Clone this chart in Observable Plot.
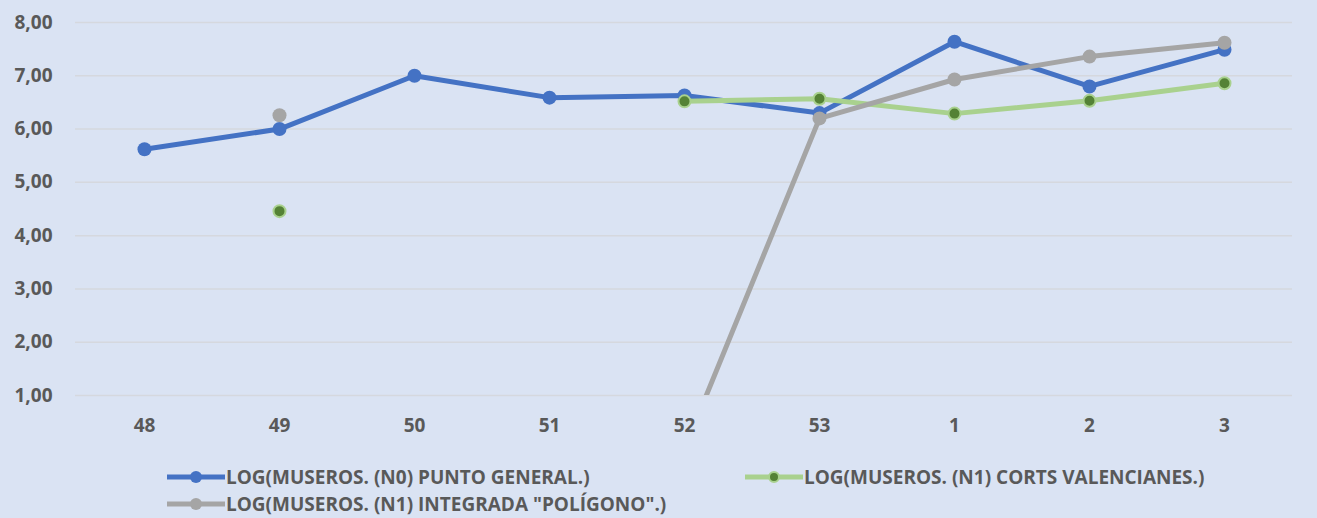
<!DOCTYPE html>
<html>
<head>
<meta charset="utf-8">
<script src="https://cdn.jsdelivr.net/npm/d3@7"></script>
<script src="https://cdn.jsdelivr.net/npm/@observablehq/plot@0.6"></script>
<style>
  html, body { margin: 0; padding: 0; background: #dae3f3; }
  body { width: 1317px; height: 518px; overflow: hidden; position: relative; font-family: "Open Sans", sans-serif; }
  #chart svg { display: block; background: #dae3f3; }
  .legend { position: absolute; left: 0; top: 0; width: 1317px; }
  .item { position: absolute; display: flex; align-items: center; font-weight: bold; font-size: 19px; color: #595959; white-space: nowrap; }
  .item svg { display: block; margin-right: 1px; }
</style>
</head>
<body>
<div id="chart"></div>
<div class="legend" id="legend"></div>
<script>
const categories = ["48", "49", "50", "51", "52", "53", "1", "2", "3"];
const seriesNames = [
  "LOG(MUSEROS. (N0) PUNTO GENERAL.)",
  "LOG(MUSEROS. (N1) CORTS VALENCIANES.)",
  "LOG(MUSEROS. (N1) INTEGRADA \"POLÍGONO\".)"
];
const puntoGeneral = [5.62, 6.00, 7.00, 6.59, 6.63, 6.30, 7.64, 6.80, 7.49];
const cortsValencianes = [null, 4.46, null, null, 6.52, 6.57, 6.29, 6.53, 6.86];
const integradaPoligono = [null, 6.26, null, null, 0.00, 6.20, 6.93, 7.36, 7.62];
const yTicks = [1, 2, 3, 4, 5, 6, 7, 8];

const toRows = (vals) => categories.map((c, i) => ({cat: c, v: vals[i]}));
const blue = toRows(puntoGeneral);
const green = toRows(cortsValencianes);
const gray = toRows(integradaPoligono);

const fmt = d => d.toFixed(2).replace(".", ",");

const plot = Plot.plot({
  width: 1317,
  height: 450,
  marginLeft: 75,
  marginRight: 25,
  marginTop: 22,
  marginBottom: 55,
  style: {background: "#dae3f3", fontFamily: "\"Open Sans\", sans-serif", fontSize: "19px", fontWeight: "bold", color: "#595959"},
  x: {type: "point", domain: categories, padding: 0.5, label: null},
  y: {domain: [1, 8], label: null},
  marks: [
    Plot.ruleY(yTicks, {stroke: "#d5d8de", strokeWidth: 1.5}),
    Plot.axisY(yTicks, {tickSize: 0, tickPadding: 23, tickFormat: fmt, fill: "#595959", fontWeight: "bold"}),
    Plot.axisX({tickSize: 0, tickPadding: 23, fill: "#595959", fontWeight: "bold"}),
    Plot.line(blue, {x: "cat", y: "v", stroke: "#4472c4", strokeWidth: 5, clip: true}),
    Plot.dot(blue, {x: "cat", y: "v", r: 7, fill: "#4472c4", stroke: "none", clip: true}),
    Plot.line(green, {x: "cat", y: "v", stroke: "#a9d18e", strokeWidth: 5, clip: true}),
    Plot.dot(green, {x: "cat", y: "v", r: 6, fill: "#548235", stroke: "#a9d18e", strokeWidth: 2, clip: true}),
    Plot.line(gray, {x: "cat", y: "v", stroke: "#a5a5a5", strokeWidth: 5, clip: true}),
    Plot.dot(gray, {x: "cat", y: "v", r: 7, fill: "#a5a5a5", stroke: "none", clip: true})
  ]
});
document.getElementById("chart").appendChild(plot);

// Legend
const legendSpec = [
  {name: seriesNames[0], line: "#4472c4", fill: "#4472c4", stroke: "none", r: 6, left: 167, top: 464},
  {name: seriesNames[1], line: "#a9d18e", fill: "#548235", stroke: "#a9d18e", r: 5, left: 745, top: 464},
  {name: seriesNames[2], line: "#a5a5a5", fill: "#a5a5a5", stroke: "none", r: 6, left: 167, top: 491}
];
const legend = document.getElementById("legend");
legendSpec.forEach(s => {
  const div = document.createElement("div");
  div.className = "item";
  div.style.left = s.left + "px";
  div.style.top = s.top + "px";
  div.innerHTML = `<svg width="58" height="24"><line x1="0" y1="12" x2="58" y2="12" stroke="${s.line}" stroke-width="5" stroke-linecap="round"/><circle cx="29" cy="12" r="${s.r}" fill="${s.fill}" stroke="${s.stroke}" stroke-width="2"/></svg><span>${s.name}</span>`;
  legend.appendChild(div);
});
</script>
</body>
</html>
